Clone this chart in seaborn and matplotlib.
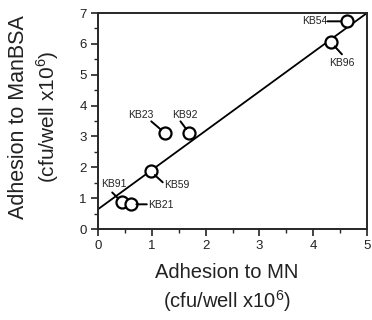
import matplotlib
matplotlib.use("Agg")
import matplotlib.pyplot as plt
import seaborn as sns
import pandas as pd

# Adhesion data (cfu/well x10^6)
strains = ["KB54", "KB96", "KB23", "KB92", "KB59", "KB91", "KB21"]
adhesion_mn = [4.62, 4.33, 1.25, 1.70, 0.98, 0.45, 0.61]
adhesion_manbsa = [6.73, 6.05, 3.10, 3.10, 1.87, 0.86, 0.80]

# Fitted line endpoints
fit_x = [0.0, 5.0]
fit_y = [0.64, 7.0]

x_ticks = [0, 1, 2, 3, 4, 5]
y_ticks = [0, 1, 2, 3, 4, 5, 6, 7]

sns.set_theme(style="ticks")
plt.rcParams["font.family"] = ["Liberation Sans", "DejaVu Sans"]
plt.rcParams["mathtext.fontset"] = "custom"
plt.rcParams["mathtext.rm"] = "Liberation Sans"

df = pd.DataFrame({"strain": strains, "mn": adhesion_mn, "manbsa": adhesion_manbsa})
fit = pd.DataFrame({"x": fit_x, "y": fit_y})

fig = plt.figure(figsize=(3.72, 3.2), dpi=100)
W, H = 372, 320
ax = fig.add_axes([98 / W, 1 - 229 / H, (367 - 98) / W, (229 - 13) / H])

sns.lineplot(data=fit, x="x", y="y", ax=ax, color="black", linewidth=1.3, zorder=2)
sns.scatterplot(data=df, x="mn", y="manbsa", ax=ax, s=75, facecolor="white",
                edgecolor="black", linewidth=1.6, zorder=3)

# Label placement: (text offset px, ha, va, leader start offset px)
label_layout = {
    "KB54": ((-19, 0), "right", "center", (-19, 0)),
    "KB96": ((11, -21), "center", "center", (11, -12)),
    "KB23": ((-24, 18), "center", "center", (-14, 12)),
    "KB92": ((-5, 18), "center", "center", (-9, 12)),
    "KB59": ((13, -14), "left", "center", (12, -11)),
    "KB91": ((-8, 18), "center", "center", (-10, 10)),
    "KB21": ((17, -1), "left", "center", (16, 0)),
}
for name, x, y in zip(strains, adhesion_mn, adhesion_manbsa):
    (tx, ty), ha, va, (lx, ly) = label_layout[name]
    ax.annotate("", xy=(x, y), xytext=(lx, ly), textcoords="offset pixels",
                arrowprops=dict(arrowstyle="-", color="black", lw=1.4,
                                shrinkA=0, shrinkB=4))
    ax.annotate(name, xy=(x, y), xytext=(tx, ty), textcoords="offset pixels",
                ha=ha, va=va, fontsize=7.5, color="#222222")

ax.set_xlim(0, 5)
ax.set_ylim(0, 7)
ax.set_xticks(x_ticks)
ax.set_yticks(y_ticks)
ax.set_xticks([0.5, 1.5, 2.5, 3.5, 4.5], minor=True)
ax.set_yticks([0.5, 1.5, 2.5, 3.5, 4.5, 5.5, 6.5], minor=True)
ax.tick_params(axis="both", which="major", direction="out", length=5, width=1.2,
               labelsize=9.5, pad=3, colors="#222222")
ax.tick_params(axis="both", which="minor", direction="out", length=3, width=1.0)
for sp in ax.spines.values():
    sp.set_visible(True)
    sp.set_linewidth(1.4)
ax.set_xlabel("")
ax.set_ylabel("")

fig.text(227 / W, 1 - 272 / H, "Adhesion to MN", ha="center", va="center",
         fontsize=14.5, color="#222222")
fig.text(227 / W, 1 - 301 / H, "(cfu/well x10$^{\\mathregular{6}}$)", ha="center",
         va="center", fontsize=14.5, color="#222222")
fig.text(19 / W, 1 - 117 / H, "Adhesion to ManBSA", ha="center", va="center",
         rotation=90, fontsize=15.5, color="#222222")
fig.text(48 / W, 1 - 117 / H, "(cfu/well x10$^{\\mathregular{6}}$)", ha="center",
         va="center", rotation=90, fontsize=15, color="#222222")

fig.savefig("out.png", dpi=100)
